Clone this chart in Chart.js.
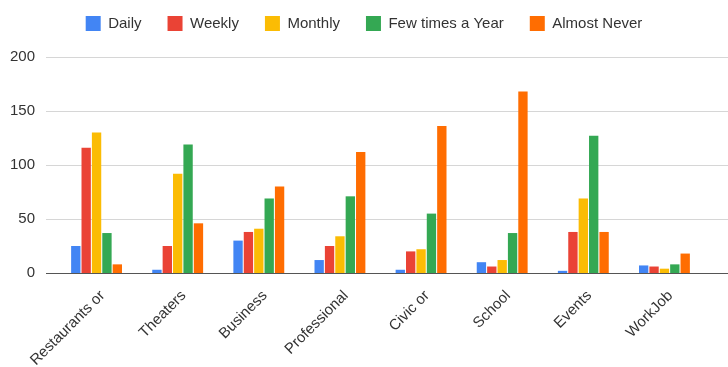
<!DOCTYPE html>
<html><head><meta charset="utf-8">
<script src="https://cdn.jsdelivr.net/npm/chart.js@4"></script>
<style>html,body{margin:0;padding:0;background:#fff}#w{width:728px;height:367px}</style>
</head><body><div id="w"><canvas id="c"></canvas></div>
<script>
const categories = ["Restaurants or","Theaters","Business","Professional","Civic or","School","Events","WorkJob"];
const daily   = [25, 3, 30, 12, 3, 10, 2, 7];
const weekly  = [116, 25, 38, 25, 20, 6, 38, 6];
const monthly = [130, 92, 41, 34, 22, 12, 69, 4];
const fewYear = [37, 119, 69, 71, 55, 37, 127, 8];
const almostNever = [8, 46, 80, 112, 136, 168, 38, 18];
const seriesNames = ["Daily","Weekly","Monthly","Few times a Year","Almost Never"];
const yTicks = [0, 50, 100, 150, 200];
const colors = ["#4285F4","#EA4335","#FBBC04","#34A853","#FF6D01"];

const FONT = "'Liberation Sans', Arial, sans-serif";
const gridPlugin = {
  id: 'grid',
  beforeDatasetsDraw(chart) {
    const y = chart.scales.y, ctx = chart.ctx;
    ctx.save();
    yTicks.forEach(v => {
      const py = Math.round(y.getPixelForValue(v)) + 0.5;
      ctx.strokeStyle = v === 0 ? '#555' : '#d6d6d6';
      ctx.lineWidth = v === 0 ? 1.2 : 1;
      ctx.beginPath(); ctx.moveTo(46, py); ctx.lineTo(728, py); ctx.stroke();
    });
    ctx.restore();
  }
};
const legendPad = {
  id: 'legendPad',
  beforeInit(chart) {
    const fit = chart.legend.fit;
    chart.legend.fit = function() { fit.bind(this)(); this.height = 67; };
  }
};
const data = [daily, weekly, monthly, fewYear, almostNever];
new Chart(document.getElementById('c'), {
  type: 'bar',
  data: {
    labels: categories,
    datasets: seriesNames.map((n, i) => ({
      label: n, data: data[i], backgroundColor: colors[i],
      categoryPercentage: 0.64, barPercentage: 0.9
    }))
  },
  options: {
    responsive: true, maintainAspectRatio: false, animation: false,
    layout: { padding: { top: -10, right: 0, bottom: 0, left: 0 } },
    plugins: {
      legend: {
        position: 'top',
        labels: { boxWidth: 15, boxHeight: 15, padding: 26, color: '#333',
                  font: { family: FONT, size: 15 } }
      },
      tooltip: { enabled: false }
    },
    scales: {
      x: {
        grid: { display: false }, border: { display: false },
        ticks: { minRotation: 45, maxRotation: 45, color: '#333', padding: 6, labelOffset: 6,
                 font: { family: FONT, size: 15 } },
        afterFit(s) { s.height = 94; }
      },
      y: {
        min: 0, max: 200,
        grid: { display: false }, border: { display: false },
        afterBuildTicks(s) { s.ticks = yTicks.map(v => ({ value: v })); },
        ticks: { color: '#333', padding: 13, font: { family: FONT, size: 15 } },
        afterFit(s) { s.width = 56; }
      },
      yRight: {
        position: 'right', display: true, min: 0, max: 200,
        grid: { display: false }, border: { display: false },
        ticks: { display: false },
        afterFit(s) { s.width = 23; }
      }
    }
  },
  plugins: [gridPlugin, legendPad]
});
</script></body></html>
